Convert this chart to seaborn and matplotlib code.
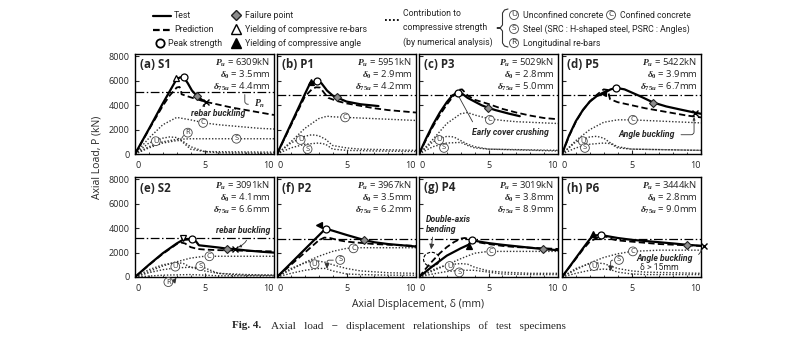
import matplotlib
matplotlib.use("Agg")
import numpy as np
import pandas as pd
import matplotlib.pyplot as plt
import seaborn as sns
from matplotlib.patches import Ellipse

# ---------------- specimen summary values ----------------
titles = ["(a) S1", "(b) P1", "(c) P3", "(d) P5", "(e) S2", "(f) P2", "(g) P4", "(h) P6"]
peak_load = [6309, 5951, 5029, 5422, 3091, 3967, 3019, 3444]      # P_u (kN)
peak_disp = [3.5, 2.9, 2.8, 3.9, 4.1, 3.5, 3.8, 2.8]              # delta_0 (mm)
disp_75 = [4.4, 4.2, 5.0, 6.7, 6.6, 6.2, 8.9, 9.0]                # delta_75u (mm)
nominal_load = [5100, 4860, 4860, 4860, 3170, 3090, 3090, 3120]   # P_n (kN)

fail_x = [4.45, 4.3, 4.95, 6.57, 6.65, 6.25, 8.93, 9.0]
fail_y = [4775, 4640, 3800, 4220, 2320, 3040, 2290, 2640]

# yielding markers: (panel, x, y, kind)
yield_panel = [0, 1, 3, 4, 5, 6, 7]
yield_x = [2.95, 2.45, 2.97, 3.45, 3.05, 3.57, 2.26]
yield_y = [6250, 5900, 4970, 3170, 4300, 2560, 3550]
yield_marker = ["^", "^", "<", "v", "<", "^", "^"]
yield_filled = [False, True, True, False, True, True, True]

# buckling (x) markers
cross_panel = [0, 3, 4, 7]
cross_x = [5.1, 9.57, 7.2, 10.2]
cross_y = [4250, 3390, 2280, 2550]

# ---------------- load-displacement curves ----------------
# (a) S1
s1_test_x = [0, 1.0, 2.0, 3.0, 3.25, 3.5, 3.8, 4.1, 4.45, 4.8, 5.1]
s1_test_y = [0, 2050, 4150, 6150, 6280, 6309, 5800, 5200, 4775, 4450, 4250]
s1_pred_x = [0, 1, 2, 2.5, 3.0, 3.2, 3.3, 3.35, 3.6, 4, 5, 6, 7, 8, 9, 10]
s1_pred_y = [0, 2000, 3950, 4800, 5450, 5500, 5300, 4900, 4800, 4650, 4300, 4050, 3800, 3600, 3400, 3200]
s1_c_x = [0, 1, 2, 3, 4, 5, 6, 7, 8, 9, 10]
s1_c_y = [0, 1300, 2400, 3000, 2800, 2550, 2400, 2300, 2200, 2100, 2050]
s1_u_x = [0, 1, 2, 2.5, 3, 3.5, 4, 5, 6, 10]
s1_u_y = [0, 900, 1300, 1400, 1350, 1000, 600, 200, 100, 50]
s1_s_x = [0, 1, 2, 3, 4, 5, 6, 8, 10]
s1_s_y = [0, 600, 1000, 1200, 1250, 1250, 1250, 1250, 1250]
s1_r_x = [0, 1, 2, 3, 3.3, 4, 5, 10]
s1_r_y = [0, 500, 900, 1100, 1100, 400, 200, 150]

# (b) P1
p1_test_x = [0, 1, 2, 2.4, 2.7, 2.9, 3.2, 3.6, 4.0, 4.3, 5, 6, 7.3]
p1_test_y = [0, 2450, 4900, 5850, 5930, 5951, 5800, 5200, 4800, 4640, 4300, 4080, 3930]
p1_pred_x = [0, 1, 2, 2.5, 2.8, 3.1, 3.4, 3.7, 4.3, 5, 6, 7, 8, 9, 10]
p1_pred_y = [0, 2350, 4700, 5300, 5470, 5450, 5000, 4600, 4350, 4150, 3950, 3750, 3600, 3500, 3400]
p1_c_x = [0, 1, 2, 3, 3.6, 4, 5, 6, 7, 8, 9, 10]
p1_c_y = [0, 1000, 2100, 2900, 3100, 3050, 3000, 2950, 2900, 2850, 2800, 2750]
p1_u_x = [0, 1, 2, 2.5, 3, 3.5, 4, 5, 6, 8, 10]
p1_u_y = [0, 900, 1450, 1580, 1500, 1200, 700, 500, 400, 350, 300]
p1_s_x = [0, 1, 2, 3, 3.5, 4, 5, 7, 10]
p1_s_y = [0, 500, 800, 900, 800, 400, 300, 250, 200]

# (c) P3
p3_test_x = [0, 0.5, 1, 1.5, 2, 2.4, 2.8, 3.1, 3.5, 4, 4.5, 4.95, 5.5, 6.5, 7.25]
p3_test_y = [0, 1250, 2400, 3400, 4250, 4800, 5029, 4950, 4600, 4300, 4000, 3800, 3600, 3300, 3100]
p3_pred_x = [0, 0.5, 1, 1.5, 2, 2.5, 2.8, 3.1, 3.5, 4, 5, 6, 7, 8, 9, 10]
p3_pred_y = [0, 1150, 2250, 3200, 4050, 4800, 5250, 5300, 4800, 4450, 4100, 3700, 3400, 3150, 2950, 2850]
p3_c_x = [0, 1, 2, 3, 3.5, 4, 5, 6, 7, 8, 9, 10]
p3_c_y = [0, 1200, 2500, 3300, 3400, 3200, 2900, 2750, 2650, 2600, 2550, 2500]
p3_u_x = [0, 1, 2, 2.5, 3, 3.5, 4, 5, 10]
p3_u_y = [0, 1000, 1450, 1400, 1100, 800, 600, 400, 250]
p3_s_x = [0, 1, 2, 3, 3.5, 4, 5, 10]
p3_s_y = [0, 600, 900, 950, 700, 500, 400, 300]

# (d) P5
p5_test_x = [0, 0.5, 1, 1.5, 2, 2.5, 2.97, 3.5, 3.9, 4.5, 5.5, 6.57, 7.5, 8.5, 9.57, 10]
p5_test_y = [0, 1500, 2700, 3600, 4300, 4750, 4970, 5300, 5422, 5300, 4800, 4220, 3900, 3650, 3390, 3300]
p5_pred_x = [0, 0.5, 1, 1.5, 2, 2.5, 3, 3.3, 3.45, 4, 5, 6, 7, 8, 9, 10]
p5_pred_y = [0, 1450, 2650, 3600, 4300, 4850, 5300, 5250, 4500, 4250, 4000, 3750, 3550, 3350, 3150, 3000]
p5_c_x = [0, 1, 2, 3, 4, 5, 6, 7, 8, 9, 10]
p5_c_y = [0, 1100, 2000, 2600, 2800, 2800, 2750, 2700, 2650, 2600, 2550]
p5_u_x = [0, 1, 2, 2.5, 3, 3.5, 4, 5, 10]
p5_u_y = [0, 1000, 1400, 1450, 1300, 900, 600, 400, 300]
p5_s_x = [0, 1, 2, 3, 3.5, 4, 5, 10]
p5_s_y = [0, 500, 800, 900, 850, 500, 400, 300]

# (e) S2
s2_test_x = [0, 1, 2, 3, 3.45, 3.8, 4.1, 4.4, 4.6, 5, 6, 6.65, 7.2, 8, 9, 10]
s2_test_y = [0, 1000, 1950, 2750, 3050, 3080, 3091, 2900, 2600, 2550, 2420, 2320, 2280, 2180, 2080, 2000]
s2_pred_x = [0, 0.5, 1, 1.5, 2, 2.5, 3, 3.3, 3.6, 4, 4.5, 5, 6, 7, 8, 9, 10]
s2_pred_y = [0, 480, 980, 1450, 1900, 2300, 2700, 2830, 2750, 2450, 2300, 2250, 2200, 2180, 2150, 2120, 2100]
s2_c_x = [0, 1, 2, 3, 4, 5, 6, 7, 8, 9, 10]
s2_c_y = [0, 450, 900, 1250, 1550, 1700, 1700, 1700, 1700, 1700, 1700]
s2_u_x = [0, 1, 2, 3, 3.5, 4, 5, 6, 8, 10]
s2_u_y = [0, 600, 1000, 1200, 1100, 800, 500, 300, 200, 150]
s2_s_x = [0, 1, 2, 3, 4, 5, 6, 7, 8, 10]
s2_s_y = [0, 350, 600, 750, 800, 750, 300, 200, 150, 150]
s2_r_x = [0, 2, 4, 6, 10]
s2_r_y = [0, 150, 200, 100, 100]

# (f) P2
p2_test_x = [0, 1, 2, 3, 3.5, 4, 5, 6.25, 7, 8, 9, 10]
p2_test_y = [0, 1130, 2270, 3400, 3967, 3800, 3450, 3040, 2850, 2700, 2600, 2500]
p2_pred_x = [0, 1, 2, 3, 3.4, 3.8, 4.5, 5, 6, 7, 8, 9, 10]
p2_pred_y = [0, 1000, 2000, 3000, 3230, 3200, 3000, 2900, 2800, 2700, 2650, 2600, 2550]
p2_c_x = [0, 1, 2, 3, 4, 5, 6, 7, 8, 9, 10]
p2_c_y = [0, 600, 1200, 1700, 2100, 2350, 2400, 2400, 2400, 2400, 2400]
p2_u_x = [0, 1, 2, 2.5, 3, 3.5, 4, 5, 6, 8, 10]
p2_u_y = [0, 700, 1150, 1300, 1300, 1200, 1000, 700, 500, 350, 300]
p2_s_x = [0, 1, 2, 3, 3.5, 4, 5, 6, 8, 10]
p2_s_y = [0, 300, 550, 700, 700, 500, 250, 200, 150, 150]

# (g) P4
p4_test_x = [0, 1, 2, 3, 3.57, 3.8, 4.5, 5, 6, 7, 8, 8.93, 10]
p4_test_y = [0, 900, 1750, 2350, 2650, 3019, 2870, 2780, 2640, 2520, 2400, 2290, 2200]
p4_pred_x = [0, 0.5, 1, 1.5, 2, 2.5, 3, 3.3, 3.6, 4, 5, 6, 7, 8, 9, 10]
p4_pred_y = [0, 700, 1350, 1950, 2450, 2850, 3150, 3200, 3100, 2900, 2700, 2550, 2450, 2400, 2350, 2300]
p4_c_x = [0, 1, 2, 3, 4, 5, 6, 7, 8, 9, 10]
p4_c_y = [0, 500, 1000, 1500, 1950, 2100, 2100, 2100, 2100, 2100, 2100]
p4_u_x = [0, 1, 2, 3, 3.5, 4, 5, 6, 8, 10]
p4_u_y = [0, 600, 1000, 1100, 1050, 800, 500, 400, 300, 300]
p4_s_x = [0, 1, 2, 3, 4, 5, 6, 8, 10]
p4_s_y = [0, 250, 450, 550, 550, 400, 250, 200, 200]

# (h) P6
p6_test_x = [0, 0.5, 1, 1.5, 2, 2.26, 2.8, 3.5, 4, 5, 6, 7, 8, 9, 10]
p6_test_y = [0, 780, 1560, 2340, 3100, 3400, 3444, 3300, 3200, 3050, 2950, 2850, 2750, 2640, 2560]
p6_pred_x = [0, 0.5, 1, 1.5, 2, 2.5, 3, 3.2, 3.6, 4, 5, 6, 7, 8, 9, 10]
p6_pred_y = [0, 750, 1500, 2250, 2900, 3200, 3300, 3300, 3100, 3000, 2900, 2800, 2700, 2650, 2600, 2550]
p6_c_x = [0, 1, 2, 3, 4, 5, 6, 7, 8, 9, 10]
p6_c_y = [0, 600, 1150, 1600, 1900, 2100, 2150, 2200, 2200, 2200, 2200]
p6_u_x = [0, 1, 2, 2.5, 3, 3.5, 4, 5, 6, 8, 10]
p6_u_y = [0, 700, 1100, 1150, 1100, 900, 700, 500, 400, 350, 300]
p6_s_x = [0, 1, 2, 3, 3.5, 4, 5, 6, 8, 10]
p6_s_y = [0, 300, 550, 650, 600, 400, 250, 200, 200, 200]

curves = [
    dict(test=(s1_test_x, s1_test_y), pred=(s1_pred_x, s1_pred_y),
         parts={"C": (s1_c_x, s1_c_y), "U": (s1_u_x, s1_u_y), "S": (s1_s_x, s1_s_y), "R": (s1_r_x, s1_r_y)}),
    dict(test=(p1_test_x, p1_test_y), pred=(p1_pred_x, p1_pred_y),
         parts={"C": (p1_c_x, p1_c_y), "U": (p1_u_x, p1_u_y), "S": (p1_s_x, p1_s_y)}),
    dict(test=(p3_test_x, p3_test_y), pred=(p3_pred_x, p3_pred_y),
         parts={"C": (p3_c_x, p3_c_y), "U": (p3_u_x, p3_u_y), "S": (p3_s_x, p3_s_y)}),
    dict(test=(p5_test_x, p5_test_y), pred=(p5_pred_x, p5_pred_y),
         parts={"C": (p5_c_x, p5_c_y), "U": (p5_u_x, p5_u_y), "S": (p5_s_x, p5_s_y)}),
    dict(test=(s2_test_x, s2_test_y), pred=(s2_pred_x, s2_pred_y),
         parts={"C": (s2_c_x, s2_c_y), "U": (s2_u_x, s2_u_y), "S": (s2_s_x, s2_s_y), "R": (s2_r_x, s2_r_y)}),
    dict(test=(p2_test_x, p2_test_y), pred=(p2_pred_x, p2_pred_y),
         parts={"C": (p2_c_x, p2_c_y), "U": (p2_u_x, p2_u_y), "S": (p2_s_x, p2_s_y)}),
    dict(test=(p4_test_x, p4_test_y), pred=(p4_pred_x, p4_pred_y),
         parts={"C": (p4_c_x, p4_c_y), "U": (p4_u_x, p4_u_y), "S": (p4_s_x, p4_s_y)}),
    dict(test=(p6_test_x, p6_test_y), pred=(p6_pred_x, p6_pred_y),
         parts={"C": (p6_c_x, p6_c_y), "U": (p6_u_x, p6_u_y), "S": (p6_s_x, p6_s_y)}),
]

# ---------------- style ----------------
sns.set_theme(style="ticks")
plt.rcParams.update({
    "font.family": ["Open Sans", "DejaVu Sans"],
    "mathtext.fontset": "custom",
    "mathtext.it": "Liberation Serif:italic:bold",
    "mathtext.rm": "Liberation Serif:bold",
    "mathtext.bf": "Liberation Serif:bold",
    "axes.linewidth": 1.0,
    "axes.edgecolor": "black",
    "xtick.direction": "in",
    "ytick.direction": "in",
    "xtick.major.size": 3,
    "ytick.major.size": 3,
    "xtick.minor.size": 1.8,
    "xtick.major.width": 0.8,
    "ytick.major.width": 0.8,
    "xtick.minor.width": 0.6,
    "xtick.labelsize": 6.5,
    "ytick.labelsize": 6.5,
    "xtick.major.pad": 4.8,
    "ytick.major.pad": 4.0,
})
NARROW = ["Roboto", "DejaVu Sans"]
DOT = (0, (1, 1.3))
DASH = (0, (3.5, 1.8))
DASHDOT = (0, (7, 2, 1.2, 2))

W, H = 800.0, 337.0
fig = plt.figure(figsize=(8.0, 3.37), dpi=100)

col_left = [135, 277, 419, 562]
col_w = 139
row_top = [54, 177]
row_h = 100


def tag(ax, x, y, s, fs=5.4, **kw):
    ax.text(x, y, s, fontsize=fs, ha="center", va="center", color="#333333",
            bbox=dict(boxstyle="circle,pad=0.12", fc="white", ec="#444444", lw=0.6),
            zorder=6, clip_on=False, **kw)


tag_pos = [
    {"C": (4.9, 2550), "U": (1.5, 1050), "S": (7.3, 1250), "R": (3.8, 1750)},
    {"C": (4.9, 3000), "U": (1.7, 1150), "S": (2.2, 400)},
    {"C": (5.1, 2800), "U": (1.45, 1150), "S": (1.8, 500)},
    {"C": (5.1, 2800), "U": (1.5, 1050), "S": (1.65, 500)},
    {"C": (5.35, 1700), "U": (2.9, 850), "S": (4.7, 900), "R": (2.4, -420)},
    {"C": (5.5, 2350), "U": (2.7, 1050), "S": (4.55, 1400)},
    {"C": (5.2, 2100), "U": (2.2, 900), "S": (2.9, 380)},
    {"C": (5.1, 2100), "U": (2.3, 900), "S": (4.1, 1400)},
]

axes = []
for i in range(8):
    r, c = divmod(i, 4)
    left = col_left[c] / W
    bottom = 1 - (row_top[r] + row_h) / H
    ax = fig.add_axes([left, bottom, col_w / W, row_h / H])
    axes.append(ax)
    cv = curves[i]

    # numerical contributions
    for key, (xs, ys) in cv["parts"].items():
        sns.lineplot(x=xs, y=ys, ax=ax, color="#333333", lw=1.0, linestyle=DOT,
                     sort=False, estimator=None)
    # nominal strength
    ax.axhline(nominal_load[i], color="black", lw=0.9, ls=DASHDOT, zorder=2)
    # prediction and test
    sns.lineplot(x=cv["pred"][0], y=cv["pred"][1], ax=ax, color="black", lw=1.3,
                 linestyle=DASH, sort=False, estimator=None, zorder=3)
    sns.lineplot(x=cv["test"][0], y=cv["test"][1], ax=ax, color="black", lw=1.6,
                 sort=False, estimator=None, zorder=4)

    # markers
    ax.plot(fail_x[i], fail_y[i], marker="D", ms=4.2, mfc="#8c8c8c", mec="#222222",
            mew=0.8, zorder=7, clip_on=False)
    ax.plot(peak_disp[i], peak_load[i], marker="o", ms=5, mfc="white", mec="black",
            mew=0.9, zorder=7, clip_on=False)

    for key, (tx, ty) in tag_pos[i].items():
        tag(ax, tx, ty, key)

    ax.set_xlim(0, 10)
    ax.set_ylim(0, 8200)
    ax.set_xticks([0, 5, 10])
    ax.set_xticklabels(["0", "5", "10"])
    ax.set_xticks(np.arange(0, 11, 1), minor=True)
    xl = ax.get_xticklabels()
    xl[0].set_ha("left")
    xl[-1].set_ha("right")
    ax.set_yticks([0, 2000, 4000, 6000, 8000])
    ax.tick_params(top=False, right=False)
    ax.tick_params(axis="x", which="minor", top=False)
    if c != 0:
        ax.set_yticklabels([])
    ax.set_xlabel("")
    ax.set_ylabel("")
    for sp in ax.spines.values():
        sp.set_visible(True)
        sp.set_linewidth(1.0)

    ax.text(0.035, 0.89, titles[i], transform=ax.transAxes, fontsize=8.3,
            fontweight="bold", ha="left", va="center", zorder=8)
    ax.text(0.975, 0.91, r"$P_u$" + f" = {peak_load[i]}kN", transform=ax.transAxes,
            fontsize=6.8, ha="right", va="center", zorder=8)
    ax.text(0.975, 0.79, r"$\delta_0$" + f" = {peak_disp[i]:.1f}mm", transform=ax.transAxes,
            fontsize=6.8, ha="right", va="center", zorder=8)
    ax.text(0.975, 0.67, r"$\delta_{75u}$" + f" = {disp_75[i]:.1f}mm", transform=ax.transAxes,
            fontsize=6.8, ha="right", va="center", zorder=8)

for k, p in enumerate(yield_panel):
    axes[p].plot(yield_x[k], yield_y[k], marker=yield_marker[k], ms=4.8,
                 mfc="black" if yield_filled[k] else "white", mec="black", mew=0.9,
                 zorder=7, clip_on=False)
for k, p in enumerate(cross_panel):
    axes[p].plot(cross_x[k], cross_y[k], marker="x", ms=4.5, color="black", mew=1.0,
                 zorder=7, clip_on=False)

# ---------------- annotations ----------------
note = dict(fontsize=6.2, fontweight="bold", fontstyle="italic", family=NARROW)
thin = dict(arrowstyle="-", color="#333333", lw=0.6)
pointer = dict(arrowstyle="-|>,head_length=0.25,head_width=0.12", color="#333333", lw=0.6)

axes[0].annotate("rebar buckling", xy=(5.0, 4150), xytext=(6.0, 3300), ha="center",
                 va="center", arrowprops=dict(pointer, connectionstyle="arc3,rad=0.4",
                                              relpos=(0.05, 0.8)), **note)
axes[0].annotate(r"$P_n$", xy=(7.9, 5100), xytext=(9.0, 4080), ha="center", va="center",
                 fontsize=7, arrowprops=dict(thin, connectionstyle="angle,angleA=180,angleB=90,rad=3"))
axes[0].annotate("", xy=(3.25, 1100), xytext=(3.6, 1700), arrowprops=dict(thin))
axes[2].annotate("Early cover crushing", xy=(2.75, 4950), xytext=(6.6, 1800), ha="center",
                 va="center", arrowprops=dict(thin, relpos=(0.05, 0.9)), **note)
axes[3].annotate("Angle buckling", xy=(9.5, 3250), xytext=(6.1, 1580), ha="center",
                 va="center", arrowprops=dict(pointer, connectionstyle="angle,angleA=0,angleB=90,rad=3",
                                              relpos=(1.0, 0.5)), **note)
axes[4].annotate("rebar buckling", xy=(7.25, 2380), xytext=(7.8, 3850), ha="center",
                 va="center", arrowprops=dict(pointer, connectionstyle="arc3,rad=-0.3",
                                              relpos=(0.6, 0.0)), **note)
axes[4].annotate("", xy=(3.1, 120), xytext=(2.75, -420),
                 arrowprops=dict(pointer), annotation_clip=False)
axes[5].annotate("", xy=(3.6, 450), xytext=(4.25, 1380), arrowprops=dict(pointer, connectionstyle="angle,angleA=180,angleB=90,rad=2"))
axes[6].add_patch(Ellipse((0.9, 1450), 1.15, 1150, fill=False, ec="black", lw=0.8, ls=(0, (3, 1.5)), zorder=5))
axes[6].text(0.5, 4700, "Double-axis", ha="left", va="center", **note)
axes[6].text(0.5, 3900, "bending", ha="left", va="center", **note)
axes[6].annotate("", xy=(0.85, 2050), xytext=(1.0, 3500), arrowprops=dict(pointer))
axes[7].annotate("Angle buckling", xy=(10.1, 2450), xytext=(7.4, 1520), ha="center",
                 va="center", annotation_clip=False,
                 arrowprops=dict(thin, connectionstyle="arc3,rad=0.3", relpos=(1.0, 0.6)), **note)
axes[7].text(7.0, 780, "δ > 15mm", ha="center", va="center", fontsize=6.2, family=NARROW)
axes[7].annotate("", xy=(3.5, 250), xytext=(3.85, 1380), arrowprops=dict(pointer, connectionstyle="angle,angleA=180,angleB=90,rad=2"))

# ---------------- shared labels and caption ----------------
fig.text(97 / W, 1 - 157 / H, "Axial Load, P (kN)", rotation=90, ha="center", va="center",
         fontsize=7.5)
fig.text(418 / W, 1 - 304 / H, "Axial Displacement, δ (mm)", ha="center", va="center",
         fontsize=7.5)
fig.text(232 / W, 1 - 326 / H, "Fig. 4.", ha="left", va="center", fontsize=8,
         fontweight="bold", family="Liberation Serif")
fig.text(271 / W, 1 - 326 / H, "Axial   load   −   displacement   relationships   of   test   specimens",
         ha="left", va="center", fontsize=8, family="Liberation Serif")

# ---------------- legend block (pixel coordinates) ----------------
ov = fig.add_axes([0, 0, 1, 1])
ov.set_xlim(0, W)
ov.set_ylim(H, 0)
ov.axis("off")
ov.patch.set_visible(False)
LFS = 6.3
ov.plot([153, 171], [16, 16], color="black", lw=1.6)
ov.plot([153, 171], [30, 30], color="black", lw=1.6, ls=(0, (3, 1.5)))
ov.plot([160], [43], marker="o", ms=6, mfc="white", mec="black", mew=1.3)
ov.plot([236], [15], marker="D", ms=5.5, mfc="#8c8c8c", mec="#222222", mew=1.0)
ov.plot([236], [29], marker="^", ms=6.5, mfc="white", mec="black", mew=1.0)
ov.plot([236], [43], marker="^", ms=6.5, mfc="black", mec="black", mew=1.0)
for x, y, s in [(174, 16, "Test"), (174, 30, "Prediction"), (168, 43, "Peak strength"),
                (245, 15, "Failure point"), (245, 29, "Yielding of compressive re-bars"),
                (245, 43, "Yielding of compressive angle")]:
    ov.text(x, y, s, fontsize=LFS, ha="left", va="center", family=NARROW)
ov.plot([385, 399], [20, 20], color="black", lw=1.3, ls=(0, (1, 1.2)))
for y, s in [(14, "Contribution to"), (28, "compressive strength"), (42, "(by numerical analysis)")]:
    ov.text(403, y, s, fontsize=LFS, ha="left", va="center", family=NARROW)
brace_x = [508, 504.5, 502.5, 502.5, 500.5, 497, 500.5, 502.5, 502.5, 504.5, 508]
brace_y = [9, 10, 13, 25, 27.5, 28, 28.5, 31, 43, 46, 47]
ov.plot(brace_x, brace_y, color="#333333", lw=0.8)
for x, y, s, lab in [(514, 15, "U", "Unconfined concrete"), (611, 15, "C", "Confined concrete"),
                     (514, 29, "S", "Steel (SRC : H-shaped steel, PSRC : Angles)"),
                     (514, 43, "R", "Longitudinal re-bars")]:
    tag(ov, x, y, s, fs=6.0)
    ov.text(x + 9, y, lab, fontsize=LFS, ha="left", va="center", family=NARROW)

fig.savefig("out.png", dpi=100)
